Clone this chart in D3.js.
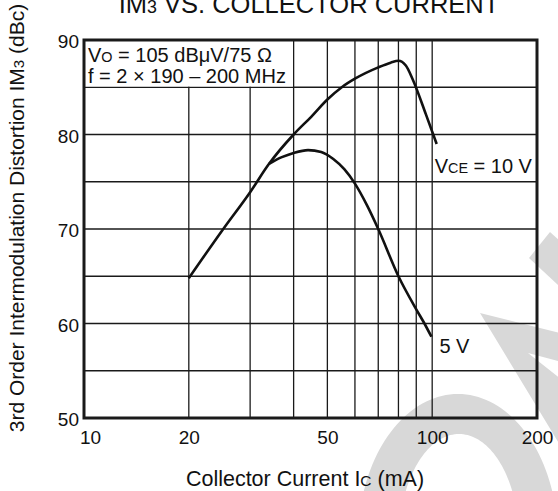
<!DOCTYPE html>
<html>
<head>
<meta charset="utf-8">
<script src="https://cdn.jsdelivr.net/npm/d3@7/dist/d3.min.js"></script>
<style>
  html, body { margin: 0; padding: 0; background: #fff; }
  svg { display: block; font-family: "Liberation Sans", Arial, Helvetica, sans-serif; }
</style>
</head>
<body>
<svg id="chart" width="558" height="491"></svg>
<script>
// ---- data ----
const xTickValues = [10, 20, 50, 100, 200];
const xTickLabels = ["10", "20", "50", "100", "200"];
const yTickValues = [50, 60, 70, 80, 90];
const yTickLabels = ["50", "60", "70", "80", "90"];
const xGridValues = [20, 30, 40, 50, 60, 70, 80, 90, 100];
const yGridValues = [55, 60, 65, 70, 75, 80, 85];

const vce10Current = [20, 25, 30, 34, 40, 45, 50, 55, 60, 70, 76, 80, 84, 88, 96, 103];
const vce10IM3     = [64.8, 69.9, 73.9, 76.9, 80.0, 81.9, 83.7, 85.0, 85.9, 87.1, 87.6, 87.8, 87.3, 85.8, 82.1, 79.0];

const vce5Current = [34, 37, 40, 44, 48, 52, 56, 60, 65, 70, 80, 90, 95, 99.5];
const vce5IM3     = [76.9, 77.6, 78.05, 78.35, 78.15, 77.4, 76.3, 74.8, 72.5, 70.0, 65.0, 61.5, 60.0, 58.6];

const svg = d3.select("#chart");
const W = 558, H = 491;
const m = { left: 84, right: 21, top: 40, bottom: 73 };

const x = d3.scaleLog().domain([10, 200]).range([m.left, W - m.right]);
const y = d3.scaleLinear().domain([50, 90]).range([H - m.bottom, m.top]);

// ---- watermark (decoration, behind everything) ----
const wmColor = "rgb(216,216,216)";
const wm = svg.append("g").attr("id", "watermark");
// horseshoe-shaped filled polygon (top part of a ring, kept inside the canvas)
function arcPts(cx, cy, rx, ry, a0, a1, n) {
  return d3.range(n + 1).map(i => {
    const t = a0 + (a1 - a0) * i / n;
    return [cx + rx * Math.cos(t), cy - ry * Math.sin(t)];
  });
}
const t0 = Math.asin(49 / 146), t1 = Math.asin(49 / 106);
const ringPoly = arcPts(458, 540, 100, 146, t0, Math.PI - t0, 60)
  .concat(arcPts(459, 540, 60, 106, Math.PI - t1, t1, 60));
wm.append("path").attr("d", d3.line()(ringPoly) + "Z").style("fill", wmColor);
wm.append("path").style("fill", wmColor).attr("d", "M529,258 L550,232 L600,278 L585,310 Z");
wm.append("path").style("fill", wmColor).attr("d", "M480,313 L600,343 L600,372 L528,353 L600,410 L600,470 L560,445 Z");

// ---- grid ----
const grid = svg.append("g").attr("stroke", "#1a1a1a").attr("stroke-width", 1.3);
grid.selectAll("line.v").data(xGridValues).join("line")
  .attr("x1", d => x(d)).attr("x2", d => x(d))
  .attr("y1", y(90)).attr("y2", y(50));
grid.selectAll("line.h").data(yGridValues).join("line")
  .attr("x1", x(10)).attr("x2", x(200))
  .attr("y1", d => y(d)).attr("y2", d => y(d));

// annotation box (white, covers grid inside x 10..40, y 85..90)
svg.append("rect")
  .attr("x", x(10) + 1).attr("y", y(90) + 1)
  .attr("width", x(40) - x(10) - 1.7).attr("height", y(85) - y(90) - 1.7)
  .attr("fill", "#fff");

const ann = svg.append("g").attr("font-size", 20).attr("fill", "#111");
const t1el = ann.append("text").attr("x", x(10) + 4).attr("y", 62);
t1el.append("tspan").text("V");
t1el.append("tspan").attr("font-size", "0.72em").text("O");
t1el.append("tspan").text(" = 105 dB\u03BCV/75 \u03A9");
ann.append("text").attr("x", x(10) + 4).attr("y", 83).text("f = 2 \u00D7 190 \u2013 200 MHz");

// ---- curves ----
const line = d3.line().x(d => x(d[0])).y(d => y(d[1])).curve(d3.curveMonotoneX);
const s10 = vce10Current.map((c, i) => [c, vce10IM3[i]]);
const s5 = vce5Current.map((c, i) => [c, vce5IM3[i]]);
svg.append("path").attr("d", line(s10)).attr("fill", "none").attr("stroke", "#111").attr("stroke-width", 2.6);
svg.append("path").attr("d", line(s5)).attr("fill", "none").attr("stroke", "#111").attr("stroke-width", 2.6);

// series labels
const lab = svg.append("g").attr("font-size", 20).attr("fill", "#111");
const l10 = lab.append("text").attr("x", x(103) - 2).attr("y", y(75.9));
l10.append("tspan").text("V");
l10.append("tspan").attr("font-size", "0.72em").text("CE");
l10.append("tspan").text(" = 10 V");
lab.append("text").attr("x", x(99.5) + 8).attr("y", y(56.9)).text("5 V");

// ---- frame ----
svg.append("rect")
  .attr("x", x(10)).attr("y", y(90))
  .attr("width", x(200) - x(10)).attr("height", y(50) - y(90))
  .attr("fill", "none").attr("stroke", "#1a1a1a").attr("stroke-width", 3);

// ---- axes (labels only) ----
const xAxis = d3.axisBottom(x).tickValues(xTickValues)
  .tickFormat((d, i) => xTickLabels[i]).tickSize(0).tickPadding(0);
const gx = svg.append("g").attr("transform", `translate(0,${y(50)})`).call(xAxis);
gx.select(".domain").remove();
gx.selectAll("text").attr("font-size", 19).attr("fill", "#111")
  .attr("font-family", null).attr("dy", null).attr("y", 26)
  .attr("dx", (d) => d === 10 ? 6 : 0);

const yAxis = d3.axisLeft(y).tickValues(yTickValues)
  .tickFormat((d, i) => yTickLabels[i]).tickSize(0).tickPadding(5);
const gy = svg.append("g").attr("transform", `translate(${x(10)},0)`).call(yAxis);
gy.select(".domain").remove();
gy.selectAll("text").attr("font-size", 19).attr("fill", "#111")
  .attr("font-family", null).attr("dy", "0.42em");

// ---- titles ----
const title = svg.append("text").attr("x", 309).attr("y", 13)
  .attr("text-anchor", "middle").attr("font-size", 25.5).attr("fill", "#111");
title.append("tspan").text("IM");
title.append("tspan").attr("font-size", "0.7em").text("3");
title.append("tspan").text(" VS. COLLECTOR CURRENT");

const xt = svg.append("text").attr("x", 305).attr("y", 486)
  .attr("text-anchor", "middle").attr("font-size", 21.5).attr("fill", "#111");
xt.append("tspan").text("Collector Current  I");
xt.append("tspan").attr("font-size", "0.72em").text("C");
xt.append("tspan").text(" (mA)");

const yt = svg.append("text")
  .attr("transform", `translate(24,218) rotate(-90)`)
  .attr("text-anchor", "middle").attr("font-size", 21).attr("fill", "#111");
yt.append("tspan").text("3rd Order Intermodulation Distortion  IM");
yt.append("tspan").attr("font-size", "0.72em").text("3");
yt.append("tspan").text(" (dBc)");
</script>
</body>
</html>
